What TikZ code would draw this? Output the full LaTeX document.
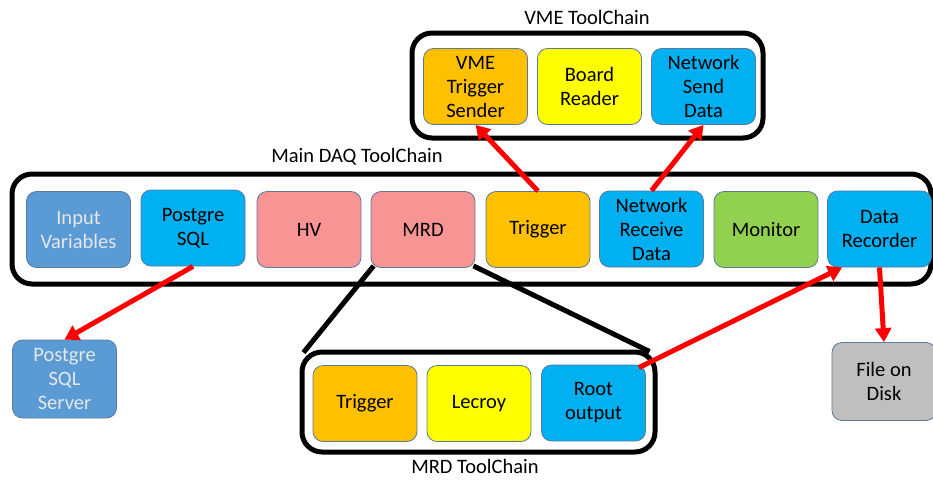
\documentclass[tikz,border=0pt]{standalone}
\usepackage{fontspec}
\setmainfont{Carlito}
\usetikzlibrary{arrows.meta,calc}
\definecolor{bordc}{HTML}{5A7A9C}
\definecolor{cblue}{HTML}{5B9BD5}
\definecolor{ccyan}{HTML}{00B0F0}
\definecolor{cpink}{HTML}{F89494}
\definecolor{corange}{HTML}{FFC000}
\definecolor{cyellow}{HTML}{FFFF00}
\definecolor{cgreen}{HTML}{92D050}
\definecolor{cgray}{HTML}{BFBFBF}
\definecolor{ltext}{HTML}{E6E6E6}
\definecolor{ared}{HTML}{FF0000}
\tikzset{
  box/.style={draw=bordc, line width=0.8pt, rounded corners=10pt, minimum width=104pt,
    minimum height=76pt, align=center, inner sep=0pt, font=\fontsize{20.5}{24}\selectfont},
  frame/.style={draw=black, line width=5pt, rounded corners=20pt, fill=white, inner sep=0pt},
  lbl/.style={font=\fontsize{20.5}{24}\selectfont, inner sep=0pt},
  link/.style={draw=black, line width=5pt},
  flow/.style={draw=ared, line width=5pt, -{Triangle[length=14pt,width=16pt]}},
}
\begin{document}
\begin{tikzpicture}[x=1pt,y=-1pt]
\useasboundingbox (0,0) rectangle (933,479);
% frames
\node[frame, minimum width=919pt, minimum height=110pt] (mainfr) at (471.5,229) {};
\node[frame, minimum width=351pt, minimum height=105pt] (vmefr) at (587.5,85.5) {};
\node[frame, minimum width=353pt, minimum height=100pt] (mrdfr) at (478.5,402) {};
% labels
\node[lbl] (vmelbl) at (587,17) {VME ToolChain};
\node[lbl] (mainlbl) at (357,157) {Main DAQ ToolChain};
\node[lbl] (mrdlbl) at (475,466) {MRD ToolChain};
% VME row
\node[box, fill=corange] (vts) at (475.5,86.5) {VME\\Trigger\\Sender};
\node[box, fill=cyellow] (br) at (589.5,86.5) {Board\\Reader};
\node[box, fill=ccyan] (nsd) at (703.5,86.5) {Network\\Send\\Data};
% main row
\node[box, fill=cblue, text=ltext] (inp) at (78.5,229.5) {Input\\Variables};
\node[box, fill=ccyan] (pg) at (193,228) {Postgre\\SQL};
\node[box, fill=cpink] (hv) at (309,229.5) {HV};
\node[box, fill=cpink] (mrd) at (423,229.5) {MRD};
\node[box, fill=corange] (trig) at (538,229.5) {Trigger};
\node[box, fill=ccyan] (nrd) at (651.5,229) {Network\\Receive\\Data};
\node[box, fill=cgreen] (mon) at (766,229.5) {Monitor};
\node[box, fill=ccyan] (dr) at (879.5,229) {Data\\Recorder};
% MRD row
\node[box, fill=corange] (mtrig) at (365,403.5) {Trigger};
\node[box, fill=cyellow] (lec) at (479,403.5) {Lecroy};
\node[box, fill=ccyan] (root) at (593.5,403) {Root\\output};
% outside
\node[box, fill=cblue, text=ltext, minimum height=78pt] (pgs) at (64.5,379) {Postgre\\SQL\\Server};
\node[box, fill=cgray, minimum height=78pt] (fod) at (884,381.5) {File on\\Disk};
% zoom lines
\draw[link] ($(mrd.south west)+(3,-2)$) -- ($(mrdfr.north west)+(4,3)$);
\draw[link] ($(mrd.south east)+(-2,-2)$) -- ($(mrdfr.north east)+(-8,2)$);
% red flows
\draw[flow] (trig.north) -- (vts.south);
\draw[flow] (nrd.north) -- (nsd.south);
\draw[flow] (pg.south) -- (pgs.north);
\draw[flow] ($(root.north east)+(-7,3)$) -- ($(dr.south west)+(15,0)$);
\draw[flow] (dr.south) -- (fod.north);
\end{tikzpicture}
\end{document}
